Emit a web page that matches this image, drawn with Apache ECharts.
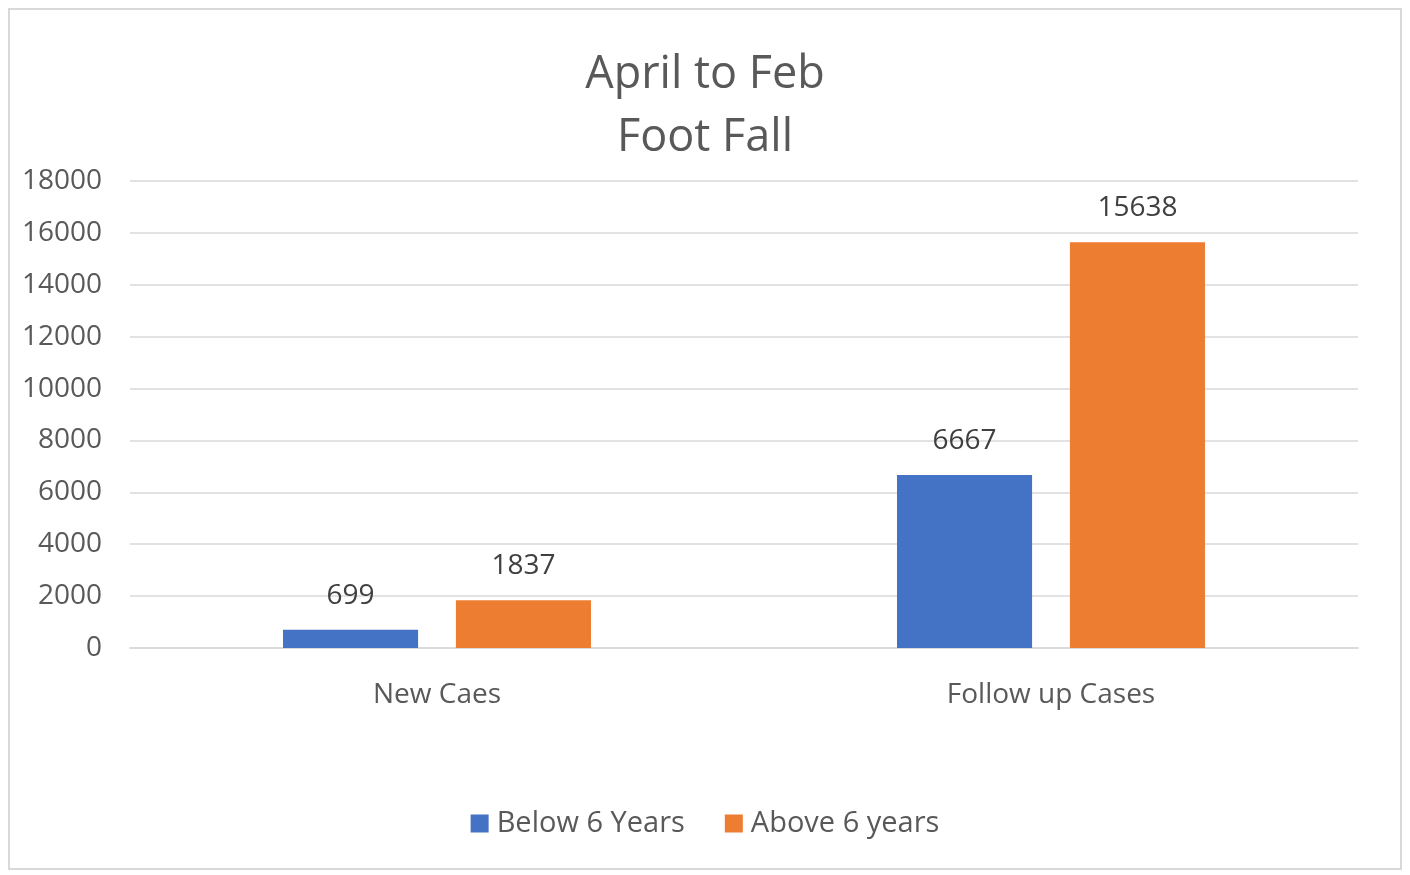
<!DOCTYPE html>
<html>
<head>
<meta charset="utf-8">
<script src="https://cdn.jsdelivr.net/npm/echarts@6/dist/echarts.min.js"></script>
<style>
  html, body { margin: 0; padding: 0; background: #fff; }
  #frame {
    position: absolute; left: 8px; top: 8px; width: 1394px; height: 862px;
    border: 2px solid #d9d9d9; box-sizing: border-box;
  }
  #chart { position: absolute; left: 0; top: 0; width: 1410px; height: 875px; }
</style>
</head>
<body>
<div id="frame"></div>
<div id="chart"></div>
<script>
const categories = ['New Caes', 'Follow up Cases']
const below6 = [699, 6667]
const above6 = [1837, 15638]

const font = 'Open Sans, Noto Sans, sans-serif'

var myChart = echarts.init(document.getElementById('chart'))
myChart.setOption({
  animation: false,
  title: {
    text: 'April to Feb\nFoot Fall',
    left: 'center',
    top: 39,
    textStyle: {
      fontFamily: font,
      fontSize: 45,
      fontWeight: 'normal',
      color: '#595959',
      lineHeight: 63
    }
  },
  grid: {
    left: 130,
    right: 52,
    top: 181,
    bottom: 227
  },
  legend: {
    bottom: 32,
    left: 'center',
    itemWidth: 18,
    itemHeight: 18,
    itemGap: 40,
    icon: 'rect',
    textStyle: { fontFamily: font, fontSize: 29, color: '#595959', padding: [0, 0, 0, 3] },
    data: ['Below 6 Years', 'Above 6 years']
  },
  xAxis: {
    type: 'category',
    data: categories,
    axisTick: { show: false },
    axisLine: { lineStyle: { color: '#d9d9d9', width: 1.5 } },
    axisLabel: { fontFamily: font, fontSize: 28, color: '#595959', margin: 33 }
  },
  yAxis: {
    type: 'value',
    min: 0,
    max: 18000,
    interval: 2000,
    splitLine: { lineStyle: { color: '#d9d9d9', width: 1.5 } },
    axisLabel: { fontFamily: font, fontSize: 28, color: '#595959', margin: 28, formatter: v => String(v) }
  },
  series: [
    {
      name: 'Below 6 Years',
      type: 'bar',
      data: below6,
      barWidth: '22%',
      barGap: '28%',
      itemStyle: { color: '#4472c4' },
      label: { show: true, position: 'top', distance: 20, fontFamily: font, fontSize: 28, color: '#404040' }
    },
    {
      name: 'Above 6 years',
      type: 'bar',
      data: above6,
      barWidth: '22%',
      itemStyle: { color: '#ed7d31' },
      label: { show: true, position: 'top', distance: 20, fontFamily: font, fontSize: 28, color: '#404040' }
    }
  ]
})
</script>
</body>
</html>
